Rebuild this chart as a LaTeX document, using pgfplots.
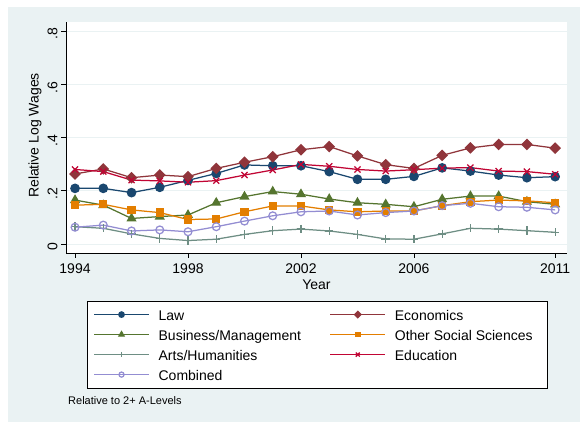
\documentclass[border=0pt]{standalone}
\usepackage{pgfplots}
\pgfplotsset{compat=1.18}
\usepackage{pgfplotstable}
\usepackage{fontspec}
\setmainfont{Liberation Sans}
\definecolor{bg}{HTML}{EAF2F3}
\definecolor{snavy}{HTML}{1A476F}
\definecolor{smaroon}{HTML}{90353B}
\definecolor{sgreen}{HTML}{55752F}
\definecolor{sorange}{HTML}{E37E00}
\definecolor{steal}{HTML}{6E8E84}
\definecolor{scran}{HTML}{C10534}
\definecolor{slav}{HTML}{938DD2}

\pgfplotstableread{
year law econ bus oth arts edu comb
1994 0.209 0.263 0.165 0.146 0.065 0.280 0.063
1995 0.209 0.282 0.146 0.149 0.059 0.272 0.071
1996 0.193 0.249 0.096 0.128 0.038 0.240 0.049
1997 0.213 0.259 0.103 0.118 0.021 0.237 0.053
1998 0.239 0.253 0.109 0.092 0.013 0.232 0.046
1999 0.265 0.284 0.155 0.094 0.018 0.238 0.065
2000 0.297 0.307 0.178 0.121 0.036 0.259 0.086
2001 0.294 0.328 0.197 0.143 0.050 0.278 0.106
2002 0.294 0.354 0.187 0.143 0.056 0.299 0.121
2003 0.272 0.366 0.169 0.128 0.049 0.292 0.124
2004 0.243 0.331 0.155 0.121 0.036 0.280 0.109
2005 0.243 0.298 0.149 0.124 0.019 0.274 0.118
2006 0.254 0.284 0.140 0.124 0.018 0.279 0.124
2007 0.286 0.333 0.168 0.144 0.038 0.285 0.144
2008 0.274 0.361 0.180 0.159 0.059 0.287 0.153
2009 0.259 0.374 0.180 0.165 0.056 0.274 0.140
2010 0.249 0.374 0.159 0.162 0.050 0.272 0.138
2011 0.253 0.360 0.149 0.155 0.044 0.262 0.128
}\datatable

\begin{document}
\begin{tikzpicture}
\path (0pt,0pt) rectangle (580pt,422pt);
\fill[bg] (8pt,0pt) rectangle (580pt,415pt);
\begin{axis}[
  at={(66pt,169pt)}, anchor=south west,
  scale only axis, width=501pt, height=231pt,
  xmin=1993.68, xmax=2011.42, ymin=-0.0338, ymax=0.834,
  axis x line*=bottom, axis y line*=left,
  axis line style={black, line width=0.8pt, -},
  axis background/.style={fill=white},
  xtick={1994,1998,2002,2006,2011},
  xticklabels={1994,1998,2002,2006,2011},
  ytick={0,0.2,0.4,0.6,0.8},
  yticklabels={0,.2,.4,.6,.8},
  tick align=outside, major tick length=5pt,
  tick style={black, line width=0.8pt},
  ymajorgrids, grid style={bg, line width=0.8pt},
  tick label style={font=\fontsize{14}{16}\selectfont},
  xticklabel style={yshift=-2pt},
  yticklabel style={rotate=90, anchor=south, xshift=-3pt},
  xlabel={Year}, ylabel={Relative Log Wages},
  xlabel style={font=\fontsize{14}{16}\selectfont, at={(axis description cs:0.5,-0.1385)}, anchor=center},
  ylabel style={font=\fontsize{14}{16}\selectfont, at={(axis description cs:-0.0619,0.5087)}, anchor=center},
  legend columns=2,
  legend cell align=left,
  legend image code/.code={\draw[mark repeat=2,mark phase=2,#1] plot coordinates {(0pt,0pt) (27.5pt,0pt) (55pt,0pt)};},
  legend image post style={every mark/.append style={scale=0.65}},
  legend style={at={(0.0425,-0.2065)}, anchor=north west, draw=black, line width=0.8pt, fill=white,
    inner xsep=5.7pt, inner ysep=5.3pt, row sep=3.6pt, column sep=0pt,
    nodes={inner sep=0pt, text height=14pt, text depth=2.4pt, anchor=west, font=\fontsize{14}{16}\selectfont},
    /tikz/every odd column/.append style={column sep=9pt}},
  every axis plot/.append style={line width=1.25pt},
]
\addplot[snavy, mark=*, mark size=4.2pt, mark options={solid, fill=snavy}] table[x=year,y=law] {\datatable};
\addlegendentry{\makebox[171pt][l]{Law}}
\addplot[smaroon, mark=square*, mark size=3.5pt, mark options={solid, fill=smaroon, rotate=45}] table[x=year,y=econ] {\datatable};
\addlegendentry{\makebox[147pt][l]{Economics}}
\addplot[sgreen, mark=triangle*, mark size=4.6pt, mark options={solid, fill=sgreen}] table[x=year,y=bus] {\datatable};
\addlegendentry{\makebox[171pt][l]{Business/Management}}
\addplot[sorange, mark=square*, mark size=3.5pt, mark options={solid, fill=sorange}] table[x=year,y=oth] {\datatable};
\addlegendentry{\makebox[147pt][l]{Other Social Sciences}}
\addplot[steal, mark=+, mark size=4.2pt, mark options={solid}] table[x=year,y=arts] {\datatable};
\addlegendentry{\makebox[171pt][l]{Arts/Humanities}}
\addplot[scran, mark=x, mark size=4.3pt, mark options={solid}] table[x=year,y=edu] {\datatable};
\addlegendentry{\makebox[147pt][l]{Education}}
\addplot[slav, mark=o, mark size=3.9pt, mark options={solid}] table[x=year,y=comb] {\datatable};
\addlegendentry{\makebox[171pt][l]{Combined}}
\end{axis}
\node[anchor=west, inner sep=0pt, font=\fontsize{11}{13}\selectfont] at (68pt,21pt) {Relative to 2+ A-Levels};
\end{tikzpicture}
\end{document}
